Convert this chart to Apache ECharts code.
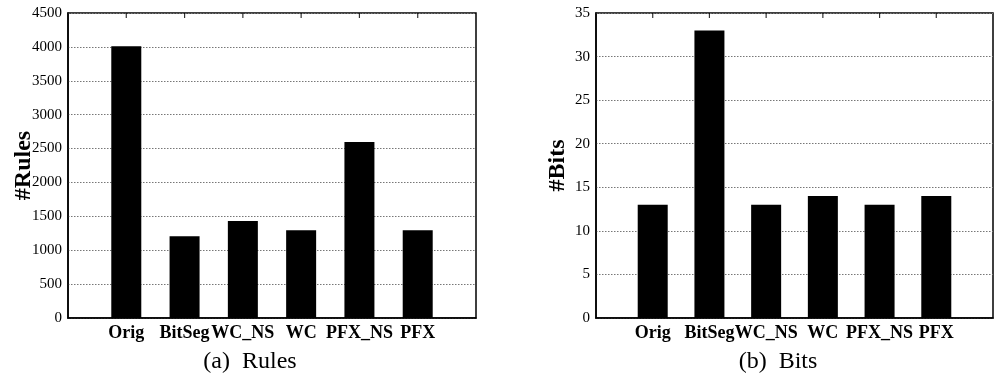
<!DOCTYPE html>
<html>
<head>
<meta charset="utf-8">
<script src="https://cdn.jsdelivr.net/npm/echarts@6/dist/echarts.min.js"></script>
<style>
html,body{margin:0;padding:0;background:#fff;}
#chart{width:996px;height:379px;}
</style>
</head>
<body>
<div id="chart"></div>
<script>
var categories = ['', 'Orig', 'BitSeg', 'WC_NS', 'WC', 'PFX_NS', 'PFX', ''];
var rulesValues = [null, 4010, 1205, 1431, 1293, 2597, 1293, null];
var bitsValues = [null, 13, 33, 13, 14, 13, 14, null];
var rulesTicks = {min: 0, max: 4500, interval: 500};
var bitsTicks = {min: 0, max: 35, interval: 5};
var titles = ['(a)  Rules', '(b)  Bits'];
var yNames = ['#Rules', '#Bits'];

var FONT = '"Liberation Serif", "Times New Roman", serif';
var chart = echarts.init(document.getElementById('chart'), null, {renderer: 'canvas'});

function xBottom(gi) {
  return {
    type: 'category', gridIndex: gi, data: categories, boundaryGap: false, position: 'bottom',
    axisLine: {show: true, onZero: false, lineStyle: {color: '#000', width: 1.5}},
    axisTick: {show: false},
    axisLabel: {interval: 0, margin: 6, color: '#000', fontFamily: FONT, fontWeight: 'bold', fontSize: 18, hideOverlap: false},
    splitLine: {show: false}
  };
}
function yAxis(gi, t, name, gap) {
  return {
    type: 'value', gridIndex: gi, min: t.min, max: t.max, interval: t.interval,
    name: name, nameLocation: 'middle', nameGap: gap, nameRotate: 90, nameMoveOverlap: false,
    nameTextStyle: {fontFamily: FONT, fontWeight: 'bold', fontSize: 24, color: '#000'},
    axisLine: {show: true, lineStyle: {color: '#000', width: 1.5}},
    axisTick: {show: false},
    axisLabel: {margin: 6, color: '#000', fontFamily: FONT, fontSize: 15,
      formatter: function (v) { return String(v); }},
    splitLine: {show: true, lineStyle: {color: '#777', width: 1, type: [1.5, 1.5]}}
  };
}
function topTicks(xi, yi, t) {
  return {
    type: 'scatter', xAxisIndex: xi, yAxisIndex: yi, silent: true, clip: false, z: 5,
    symbol: 'rect', symbolSize: [1.2, 5], symbolOffset: [0, 2.5],
    itemStyle: {color: '#000'},
    data: categories.slice(1, -1).map(function (c) { return [c, t.max]; })
  };
}

chart.setOption({
  backgroundColor: '#fff',
  animation: false,
  grid: [
    {left: 68, top: 13, width: 408, height: 305, show: true, borderColor: '#000', borderWidth: 1.5, backgroundColor: 'transparent'},
    {left: 596, top: 13, width: 408, height: 305, show: true, borderColor: '#000', borderWidth: 1.5, backgroundColor: 'transparent'}
  ],
  xAxis: [xBottom(0), xBottom(1)],
  yAxis: [yAxis(0, rulesTicks, yNames[0], 32), yAxis(1, bitsTicks, yNames[1], 26)],
  series: [
    {type: 'bar', xAxisIndex: 0, yAxisIndex: 0, data: rulesValues, barWidth: 30,
     itemStyle: {color: '#000'}},
    {type: 'bar', xAxisIndex: 1, yAxisIndex: 1, data: bitsValues, barWidth: 30,
     itemStyle: {color: '#000'}},
    topTicks(0, 0, rulesTicks),
    topTicks(1, 1, bitsTicks)
  ],
  graphic: [
    {type: 'text', x: 250, y: 362, style: {text: titles[0], font: '24px ' + FONT, fill: '#000', textAlign: 'center', textVerticalAlign: 'middle'}},
    {type: 'text', x: 778, y: 362, style: {text: titles[1], font: '24px ' + FONT, fill: '#000', textAlign: 'center', textVerticalAlign: 'middle'}}
  ]
});
</script>
</body>
</html>
